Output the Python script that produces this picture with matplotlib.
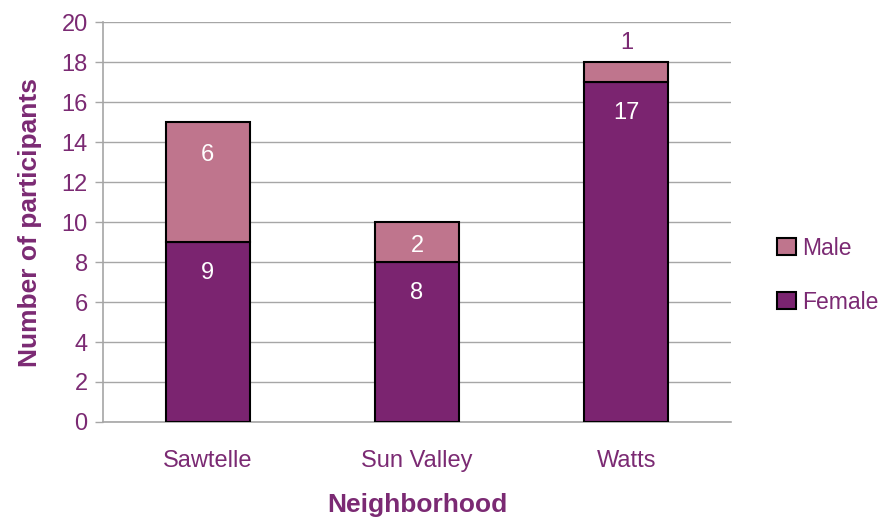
import matplotlib.pyplot as plt
from matplotlib.patches import Patch

neighborhoods = ["Sawtelle", "Sun Valley", "Watts"]
female = [9, 8, 17]
male = [6, 2, 1]

female_color = "#7B2470"
male_color = "#BF758D"
text_color = "#7B2A73"
grid_color = "#A6A6A6"

plt.rcParams['font.family'] = ['Liberation Sans', 'DejaVu Sans']

fig = plt.figure(figsize=(8.82, 5.19), dpi=100)
ax = fig.add_axes([0.1168, 0.1869, 0.712, 0.7707])

x = range(len(neighborhoods))
ax.bar(x, female, width=0.4, color=female_color, edgecolor="black", linewidth=1.5, zorder=3)
ax.bar(x, male, width=0.4, bottom=female, color=male_color, edgecolor="black", linewidth=1.5, zorder=3)

# labels near the top of each segment, tiny ones go above the bar
px_per_unit = 20
for i in x:
    ax.annotate(str(female[i]), (i, female[i]), xytext=(0, -31), textcoords="offset pixels",
                ha="center", va="center", color="white", fontsize=17)
    top = female[i] + male[i]
    if male[i] >= 2:
        off = -min(33, male[i] * px_per_unit / 2 + 4)
        ax.annotate(str(male[i]), (i, top), xytext=(0, off), textcoords="offset pixels",
                    ha="center", va="center", color="white", fontsize=17)
    else:
        ax.annotate(str(male[i]), (i, top), xytext=(0, 19), textcoords="offset pixels",
                    ha="center", va="center", color=text_color, fontsize=17)

ax.set_xlim(-0.5, 2.5)
ax.set_ylim(0, 20)
ax.set_yticks(range(0, 21, 2))
ax.set_xticks(list(x))
ax.set_xticklabels(neighborhoods)
ax.yaxis.grid(True, color=grid_color, linewidth=1, zorder=0)
ax.set_axisbelow(True)

for s in ["top", "right"]:
    ax.spines[s].set_visible(False)
for s in ["left", "bottom"]:
    ax.spines[s].set_color(grid_color)
    ax.spines[s].set_linewidth(1.2)

ax.tick_params(axis="y", colors=grid_color, labelcolor=text_color, labelsize=17, length=6, width=1, pad=5)
ax.tick_params(axis="x", length=0, labelcolor=text_color, labelsize=17, pad=20)

ax.set_ylabel("Number of participants", color=text_color, fontsize=19, fontweight="bold", labelpad=14)
ax.set_xlabel("Neighborhood", color=text_color, fontsize=19, fontweight="bold", labelpad=15)

handles = [Patch(facecolor=male_color, edgecolor="black", linewidth=1.5),
           Patch(facecolor=female_color, edgecolor="black", linewidth=1.5)]
fig.legend(handles, ["Male", "Female"], loc="center left", bbox_to_anchor=(0.876, 0.47),
           frameon=False, fontsize=16.5, labelcolor=text_color, handlelength=0.8, handleheight=0.8,
           handletextpad=0.3, labelspacing=1.35, borderaxespad=0, borderpad=0.2)

fig.savefig("out.png", dpi=100)
